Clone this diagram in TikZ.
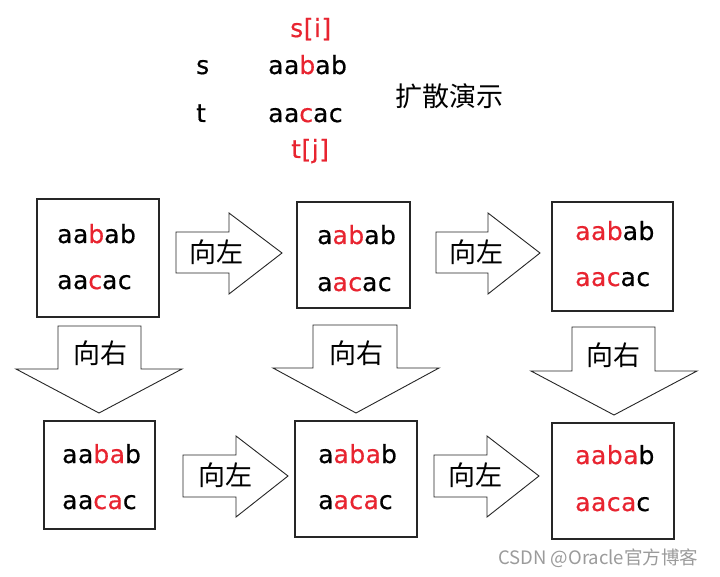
\documentclass[tikz,border=0pt]{standalone}
\usepackage{fontspec}
\setmainfont{DejaVu Sans}
\newfontfamily\latn[LetterSpace=2,FakeBold=0.5]{DejaVu Sans}
\newfontfamily\cjk{Noto Sans CJK SC}
\definecolor{myred}{RGB}{232,36,48}
\definecolor{wm}{RGB}{155,155,155}
\newcommand\Rd[1]{\textcolor{myred}{#1}}
% right block arrow: sx, top, bot, hx, htop, hbot, tipx, tipy
\newcommand\myRA[8]{\draw[blk] (#1,#2) -- (#4,#2) -- (#4,#5) -- (#7,#8) -- (#4,#6) -- (#4,#3) -- (#1,#3) -- cycle;}
% down block arrow: sl, sr, st, ht, hl, hr, tipx, tipy
\newcommand\myDA[8]{\draw[blk] (#1,#3) -- (#2,#3) -- (#2,#4) -- (#6,#4) -- (#7,#8) -- (#5,#4) -- (#1,#4) -- cycle;}
\begin{document}
\begin{tikzpicture}[x=1pt,y=-1pt,
  box/.style={draw=black!85,line width=1.4pt,inner sep=0pt},
  blk/.style={draw=black!85,line width=0.9pt,fill=white,line join=miter},
  word/.style={font=\latn\fontsize{25}{25}\selectfont,anchor=base west,inner sep=0pt},
  zh/.style={font=\cjk\fontsize{27}{27}\selectfont,inner sep=0pt}]
\useasboundingbox[fill=white] (0,0) rectangle (720,577);

% header
\node[word,text=myred] (si) at (290,37) {s[i]};
\node[word] (sl) at (196,74) {s};
\node[word] (ss) at (268,74) {aa\Rd{b}ab};
\node[word] (tl) at (196,122) {t};
\node[word] (ts) at (268,122) {aa\Rd{c}ac};
\node[word,text=myred] (tj) at (291,158) {t[j]};
\node[zh,anchor=west] (title) at (395,96) {扩散演示};

% boxes
\node[box,minimum width=122pt,minimum height=118pt] (b1) at (98,258) {};
\node[box,minimum width=113pt,minimum height=106pt] (b2) at (353.5,255) {};
\node[box,minimum width=121pt,minimum height=109pt] (b3) at (612.5,256.5) {};
\node[box,minimum width=111pt,minimum height=108pt] (b4) at (99.5,475) {};
\node[box,minimum width=122pt,minimum height=116pt] (b5) at (356,479) {};
\node[box,minimum width=122pt,minimum height=116pt] (b6) at (613,481) {};

% box texts
\node[word] (b1s) at (57,243) {aa\Rd{b}ab};
\node[word] (b1t) at (57,289) {aa\Rd{c}ac};
\node[word] (b2s) at (317,244) {a\Rd{ab}ab};
\node[word] (b2t) at (317,291) {a\Rd{ac}ac};
\node[word] (b3s) at (575,240) {\Rd{aab}ab};
\node[word] (b3t) at (575,286) {\Rd{aac}ac};
\node[word] (b4s) at (62,463) {aa\Rd{ba}b};
\node[word] (b4t) at (62,509) {aa\Rd{ca}c};
\node[word] (b5s) at (318,463) {a\Rd{aba}b};
\node[word] (b5t) at (318,509) {a\Rd{aca}c};
\node[word] (b6s) at (575,464) {\Rd{aaba}b};
\node[word] (b6t) at (575,511) {\Rd{aaca}c};

% block arrows
\myRA{176}{232}{273}{229}{213}{294}{282}{253}
\myRA{436}{232}{273}{488}{213}{294}{540}{253}
\myRA{183}{455}{497}{236}{436}{517}{288}{476}
\myRA{434}{455}{497}{487}{436}{517}{539}{476}
\myDA{58}{141}{326}{369}{16}{182}{99}{413}
\myDA{313}{397}{325}{368}{273}{439}{356}{413}
\myDA{572}{655}{327}{371}{531}{697}{614}{415}

% arrow labels
\node[zh] (l1) at (216,252) {向左};
\node[zh] (l2) at (476,252) {向左};
\node[zh] (l3) at (225,475) {向左};
\node[zh] (l4) at (475,475) {向左};
\node[zh] (d1) at (100,353) {向右};
\node[zh] (d2) at (356,353) {向右};
\node[zh] (d3) at (613,355) {向右};

% watermark
\node[font=\cjk\fontsize{18.5}{18.5}\selectfont,text=wm,anchor=base west,inner sep=0pt] (wmk) at (498,564) {CSDN @Oracle官方博客};
\end{tikzpicture}
\end{document}
